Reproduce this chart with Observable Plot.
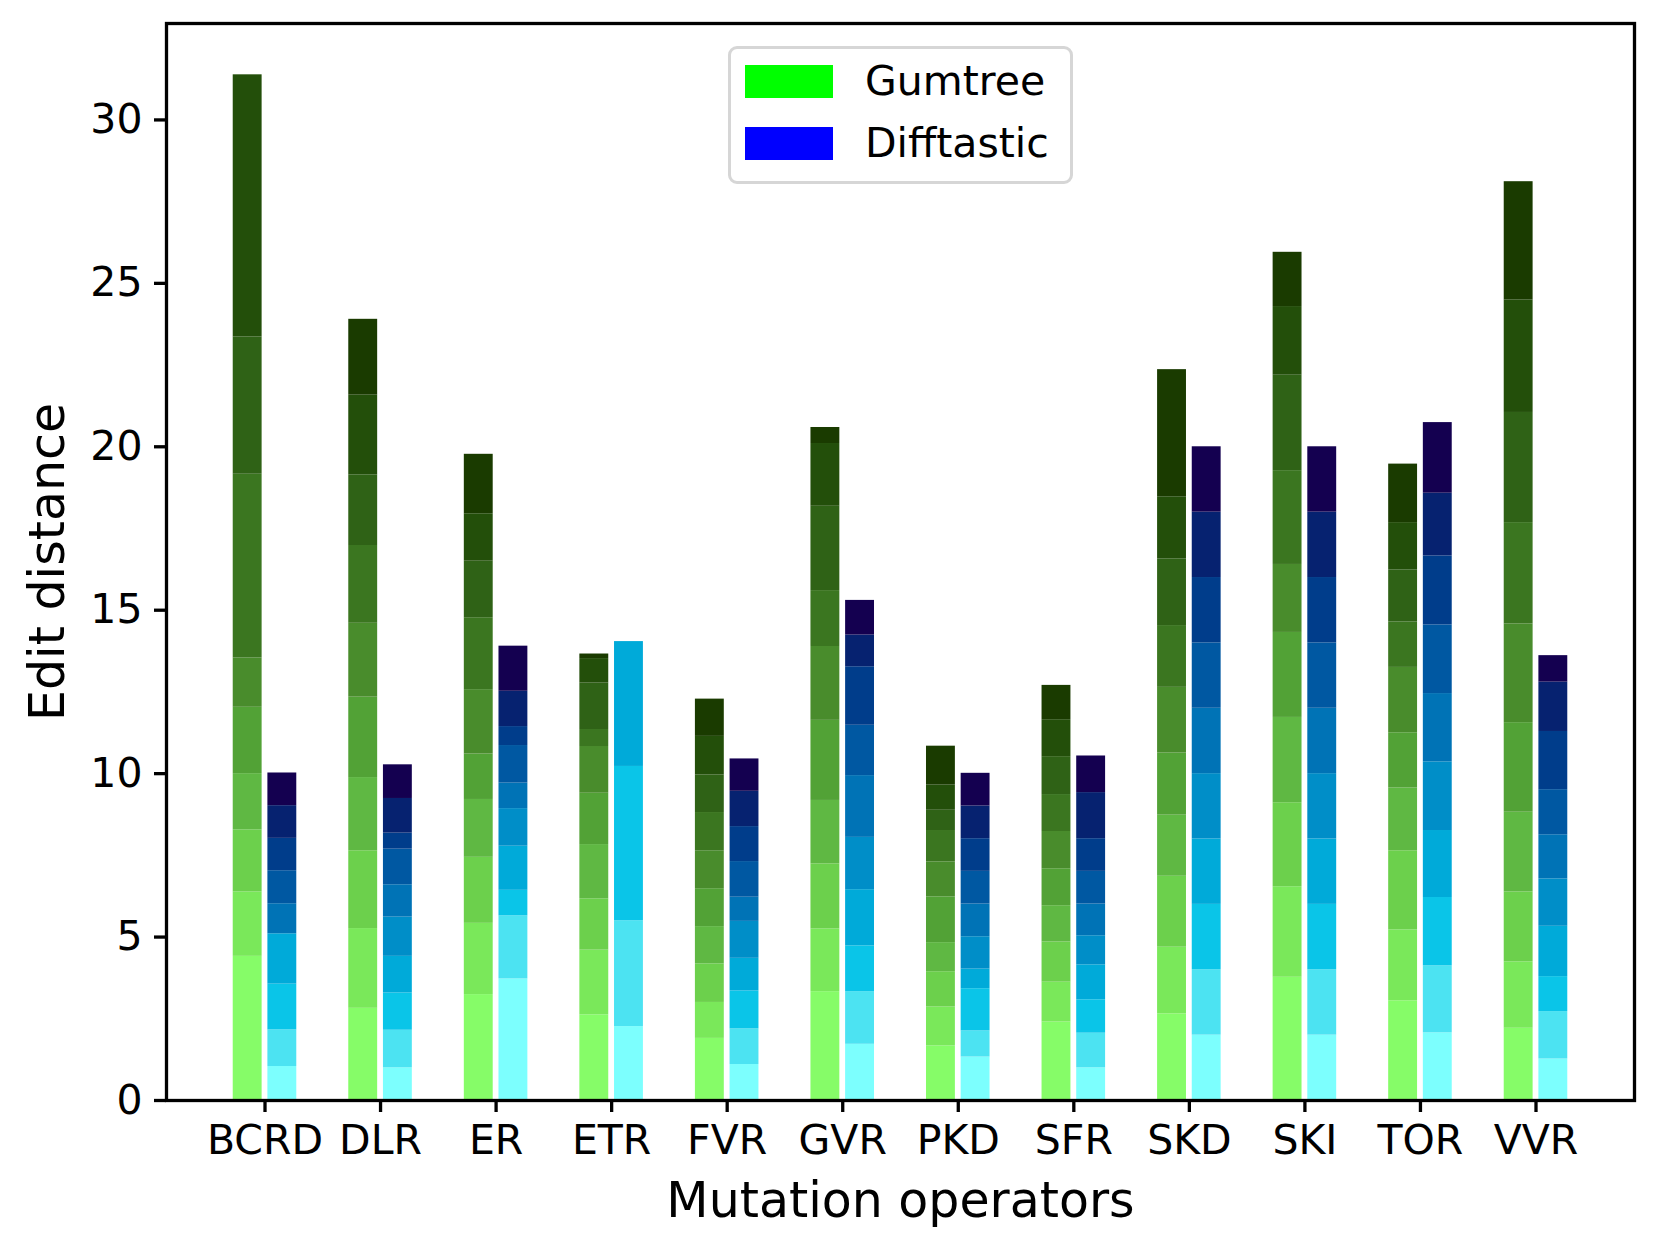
<!DOCTYPE html>
<html>
<head>
<meta charset="utf-8">
<script src="https://cdn.jsdelivr.net/npm/d3@7"></script>
<script src="https://cdn.jsdelivr.net/npm/@observablehq/plot@0.6"></script>
<style>
  html, body { margin: 0; padding: 0; background: #ffffff; }
  #wrap { position: relative; width: 1661px; height: 1254px; font-family: "DejaVu Sans", sans-serif; }
  #legend { position: absolute; left: 728px; top: 46px; width: 345px; height: 138px; box-sizing: border-box;
            border: 3px solid #d6d6d6; border-radius: 9px; background: rgba(255,255,255,0.8); }
  .sw { position: absolute; left: 14px; width: 88px; height: 33px; }
  .lt { position: absolute; left: 134px; font-size: 41px; line-height: 41px; color: #000; }
</style>
</head>
<body>
<div id="wrap"><div id="chart"></div>
  <div id="legend"></div>
</div>
<script>
// ---- data ----
const operators = ["BCRD", "DLR", "ER", "ETR", "FVR", "GVR", "PKD", "SFR", "SKD", "SKI", "TOR", "VVR"];
const tools = ["Gumtree", "Difftastic"];
const yTicks = [0, 5, 10, 15, 20, 25, 30];

// stacked segment sizes (levels 1..10, bottom to top) for each operator
const gumtreeSegments = [
  [4.41, 1.97, 1.90, 1.72, 2.03, 1.51, 5.62, 4.20, 8.02, 0],
  [2.82, 2.44, 2.38, 2.24, 2.46, 2.26, 2.38, 2.16, 2.44, 2.32],
  [3.24, 2.18, 2.02, 1.77, 1.39, 1.97, 2.20, 1.73, 1.45, 1.82],
  [2.62, 1.98, 1.57, 1.66, 1.57, 1.43, 0.52, 1.42, 0.75, 0.14],
  [1.90, 1.10, 1.18, 1.14, 1.16, 1.16, 1.17, 1.15, 1.18, 1.14],
  [3.33, 1.92, 1.99, 1.94, 2.45, 2.26, 1.71, 2.58, 1.92, 0.49],
  [1.67, 1.19, 1.08, 0.89, 1.40, 1.07, 0.96, 0.62, 0.77, 1.19],
  [2.40, 1.22, 1.23, 1.11, 1.13, 1.14, 1.13, 1.16, 1.13, 1.05],
  [2.65, 2.04, 2.17, 1.87, 1.90, 2.01, 1.89, 2.04, 1.90, 3.89],
  [3.77, 2.77, 2.57, 2.61, 2.60, 2.08, 2.87, 2.92, 2.10, 1.66],
  [3.05, 2.17, 2.42, 1.92, 1.69, 2.00, 1.39, 1.59, 1.45, 1.79],
  [2.21, 2.03, 2.14, 2.44, 2.74, 3.02, 3.10, 3.37, 3.44, 3.62]
];
const difftasticSegments = [
  [1.04, 1.12, 1.40, 1.54, 0, 0.92, 1.01, 0.99, 1.00, 1.00],
  [1.00, 1.15, 1.14, 1.12, 1.20, 0.99, 1.09, 0.49, 1.06, 1.03],
  [3.72, 1.93, 0.78, 1.35, 1.15, 0.78, 1.15, 0.58, 1.08, 1.38],
  [2.26, 3.24, 4.72, 3.82, 0, 0, 0, 0, 0, 0],
  [1.10, 1.09, 1.16, 1.00, 1.13, 0.74, 1.09, 1.07, 1.08, 0.99],
  [1.72, 1.61, 1.40, 1.72, 1.60, 1.89, 1.54, 1.79, 0.97, 1.06],
  [1.33, 0.80, 1.29, 0.60, 0.99, 1.00, 1.00, 1.00, 1.00, 1.00],
  [1.00, 1.06, 1.02, 1.07, 0.89, 0.97, 1.00, 1.00, 1.41, 1.12],
  [2.00, 2.00, 2.00, 2.00, 2.00, 2.00, 2.00, 2.00, 2.00, 2.00],
  [2.00, 2.00, 2.00, 2.00, 2.00, 2.00, 2.00, 2.00, 2.00, 2.00],
  [2.07, 2.05, 2.09, 2.05, 2.10, 2.09, 2.10, 2.11, 1.92, 2.16],
  [1.27, 1.45, 1.07, 1.54, 1.45, 1.35, 1.38, 1.78, 1.51, 0.81]
];

// ---- styles ----
const gumtreeShades = ["#86fc68", "#7ae85a", "#6cd04c", "#5fb843", "#52a236", "#498c2c", "#3b7620", "#2f6216", "#234f0a", "#1a3b00"];
const difftasticShades = ["#7cfffe", "#4ce3f2", "#0ac5e8", "#00aad9", "#008ec8", "#0073b6", "#0058a2", "#003d8b", "#062270", "#140050"];
const legendColors = ["#00ff00", "#0000ff"];

// ---- table for the library ----
const rows = [];
operators.forEach((op, i) => {
  tools.forEach((tool, t) => {
    const segs = (t === 0 ? gumtreeSegments : difftasticSegments)[i];
    const shades = t === 0 ? gumtreeShades : difftasticShades;
    segs.forEach((v, k) => {
      if (v > 0) rows.push({op, i, tool, t, level: k + 1, value: v, color: shades[k]});
    });
  });
});

const barW = 0.25, off = 0.15;
const chart = Plot.plot({
  width: 1661,
  height: 1254,
  marginLeft: 166,
  marginRight: 27,
  marginTop: 23,
  marginBottom: 154,
  style: {fontFamily: "DejaVu Sans, sans-serif", fontSize: "41px", color: "#000", background: "#fff"},
  x: {type: "linear", domain: [-0.8525, 11.8525]},
  y: {domain: [0, 32.95]},
  color: {type: "identity"},
  marks: [
    Plot.rectY(rows, {
      x1: d => d.i + (d.t === 0 ? -off : off) - barW / 2,
      x2: d => d.i + (d.t === 0 ? -off : off) + barW / 2,
      y: "value",
      fill: "color"
    }),
    Plot.axisX({ticks: operators.map((_, i) => i), tickFormat: i => operators[i], tickSize: 12, tickPadding: 12,
                strokeWidth: 3.3, fontSize: 41, label: null}),
    Plot.axisY({ticks: yTicks, tickSize: 12, tickPadding: 12, strokeWidth: 3.3, fontSize: 41, label: null}),
    Plot.frame({stroke: "#000", strokeWidth: 3.3}),
    Plot.text(["Edit distance"], {frameAnchor: "left", rotate: -90, dx: -118, fontSize: 49,
                                  textAnchor: "middle", lineAnchor: "middle", text: d => d}),
    Plot.text(["Mutation operators"], {frameAnchor: "bottom", dy: 101, fontSize: 49,
                                       textAnchor: "middle", lineAnchor: "middle", text: d => d})
  ]
});
document.getElementById("chart").appendChild(chart);

// legend
const legend = document.getElementById("legend");
tools.forEach((tool, t) => {
  const sw = document.createElement("div");
  sw.className = "sw";
  sw.style.top = (t === 0 ? 16 : 78) + "px";
  sw.style.background = legendColors[t];
  legend.appendChild(sw);
  const lt = document.createElement("div");
  lt.className = "lt";
  lt.style.top = (t === 0 ? 12 : 74) + "px";
  lt.textContent = tool;
  legend.appendChild(lt);
});
</script>
</body>
</html>
